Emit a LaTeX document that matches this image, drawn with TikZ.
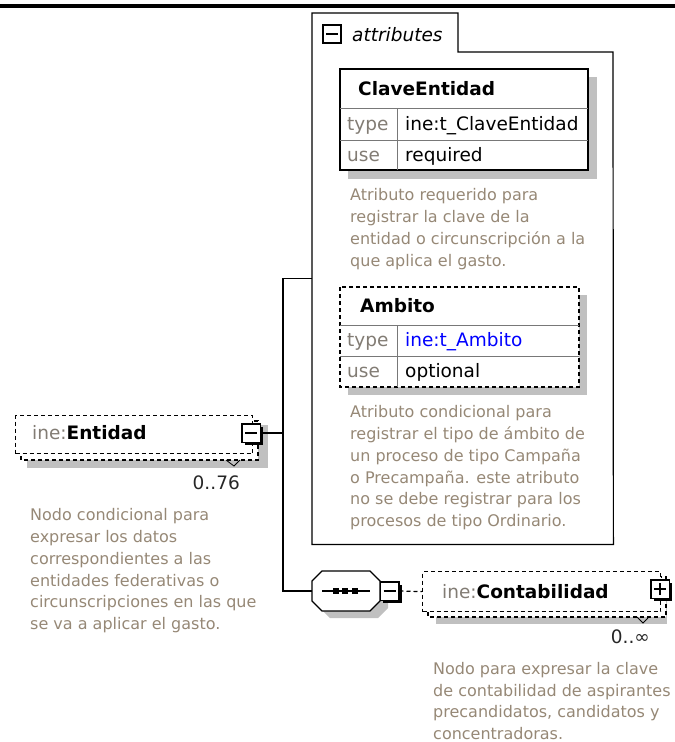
\documentclass[tikz,border=0pt]{standalone}
\usepackage{fontspec}
\setmainfont{DejaVu Sans}
\usepackage{xcolor}
\usetikzlibrary{shadows}

\definecolor{annot}{RGB}{150,136,118}
\definecolor{prefix}{RGB}{130,124,116}
\definecolor{shadowgray}{RGB}{192,192,192}
\definecolor{typeblue}{RGB}{0,0,255}
\definecolor{gridline}{RGB}{120,120,120}

\tikzset{
	box/.style={draw, line width=1.2pt, fill=white},
	optbox/.style={box, dash pattern=on 4pt off 3pt},
	conn/.style={line width=1.2pt},
	grid/.style={line width=0.8pt, draw=gridline},
	lbl/.style={anchor=base west, inner sep=0pt, font=\fontsize{18.5}{22}\selectfont},
	desc/.style={anchor=north west, align=left, inner sep=0pt, text=annot, font=\fontsize{16}{21.7}\selectfont},
	btn/.style={draw, line width=1.5pt, fill=white, minimum size=18.5pt, inner sep=0pt},
	raised/.style={drop shadow={opacity=1, fill=black, shadow xshift=2.8pt, shadow yshift=-2.8pt}},
	minusbtn/.style={btn, path picture={\draw[line width=1.3pt] ([xshift=-6pt]path picture bounding box.center) -- ([xshift=6pt]path picture bounding box.center);}},
	plusbtn/.style={btn, path picture={\draw[line width=1.3pt] ([xshift=-6pt]path picture bounding box.center) -- ([xshift=6pt]path picture bounding box.center) ([yshift=-6pt]path picture bounding box.center) -- ([yshift=6pt]path picture bounding box.center);}},
}

\begin{document}
\begin{tikzpicture}[x=1pt,y=-1pt]
	\useasboundingbox (0,0) rectangle (675,742);
	\fill (0,3.5) rectangle (675,7.5);

	\begin{scope}
		\node[minimum width=301pt, minimum height=531pt, inner sep=0pt, anchor=north west] (attrs) at (312,13) {};
		\draw[conn] (attrs.south west) -- (attrs.north west) -- (458,13) -- (458,52) -- (613,52) -- (attrs.south east) -- cycle;
		\node[minusbtn, line width=2pt, minimum size=18pt] (attrbtn) at (332,34) {};
		\node[lbl, font=\fontsize{18.5}{22}\selectfont\itshape] at (352,41) {attributes};
	\end{scope}

	\begin{scope}
		\fill[shadowgray] (348,77) rectangle (597,179);
		\draw[box] (340,69) rectangle (588,170);
		\draw[grid] (340,108) -- (588,108);
		\draw[grid] (340,140) -- (588,140);
		\draw[grid] (397,108) -- (397,170);
		\node[lbl, font=\fontsize{18.5}{22}\selectfont\bfseries] at (358,95.2) {ClaveEntidad};
		\node[lbl, text=prefix] at (347,130) {type};
		\node[lbl] at (405,130) {ine:t\_ClaveEntidad};
		\node[lbl, text=prefix] at (347,161) {use};
		\node[lbl] at (405,161) {required};
		\node[desc] at (350,188.6) {Atributo requerido para\\registrar la clave de la\\entidad o circunscripción a la\\que aplica el gasto.};
	\end{scope}

	\begin{scope}
		\fill[shadowgray] (348,295) rectangle (587,395);
		\draw[optbox] (340,287) rectangle (579,387);
		\draw[grid] (340,325) -- (579,325);
		\draw[grid] (340,356) -- (579,356);
		\draw[grid] (397,325) -- (397,387);
		\node[lbl, font=\fontsize{18.5}{22}\selectfont\bfseries] at (360,312.7) {Ambito};
		\node[lbl, text=prefix] at (347,346.5) {type};
		\node[lbl, text=typeblue] at (405,346.5) {ine:t\_Ambito};
		\node[lbl, text=prefix] at (347,377.5) {use};
		\node[lbl] at (405,377.5) {optional};
		\node[desc] at (350,405.6) {Atributo condicional para\\registrar el tipo de ámbito de\\un proceso de tipo Campaña\\o Precampaña. este atributo\\no se debe registrar para los\\procesos de tipo Ordinario.};
	\end{scope}

	\begin{scope}
		\fill[shadowgray] (27,425) rectangle (268,468);
		\draw[optbox] (21,421) rectangle (258,460);
		\node[optbox, minimum width=237pt, minimum height=38pt, inner sep=0pt, anchor=north west] (entidad) at (15,415) {};
		\node[lbl] at (32,439.7) {\textcolor{prefix}{ine:}\textbf{Entidad}};
		\node[minusbtn, raised] (entbtn) at (251,433) {};
		\draw[line width=0.8pt] (226,460) -- (234,466) -- (240,460);
		\node[lbl, anchor=base east, text=black!85] at (240,489) {0..76};
		\node[desc] at (30,508.6) {Nodo condicional para\\expresar los datos\\correspondientes a las\\entidades federativas o\\circunscripciones en las que\\se va a aplicar el gasto.};
	\end{scope}

	\begin{scope}
		\node[minimum width=68pt, minimum height=40pt, inner sep=0pt] (seq) at (346,591) {};
		\fill[shadowgray, shift={(8,7)}] (322,571) -- (370,571) -- (380,581) -- (380,601) -- (370,611) -- (322,611) -- (312,601) -- (312,581) -- cycle;
		\draw[box] (322,571) -- (370,571) -- (380,581) -- (380,601) -- (370,611) -- (322,611) -- (312,601) -- (312,581) -- cycle;
		\draw[conn] (322,591) -- (370,591);
		\foreach \x in {336,345,355}
			\fill (\x-2.7,588.3) rectangle (\x+2.7,593.7);
		\node[minusbtn, raised] (seqbtn) at (389.5,591) {};
	\end{scope}

	\begin{scope}
		\fill[shadowgray] (436,585) rectangle (667,624);
		\draw[optbox] (428,577) rectangle (666,617);
		\node[optbox, minimum width=238pt, minimum height=40pt, inner sep=0pt, anchor=north west] (contab) at (422,571) {};
		\node[lbl] at (442,598) {\textcolor{prefix}{ine:}\textbf{Contabilidad}};
		\node[plusbtn, raised] (contabbtn) at (660,589) {};
		\draw[line width=0.8pt] (637,617) -- (643,623) -- (648,618);
		\node[lbl, anchor=base east, text=black!85] at (650,643.5) {0..∞};
		\node[desc] at (433,662) {Nodo para expresar la clave\\de contabilidad de aspirantes\\precandidatos, candidatos y\\concentradoras.};
	\end{scope}

	\coordinate (fork) at (283,433);
	\draw[conn] (entbtn.east) -- (fork);
	\draw[conn] (attrs.west) -| (fork) |- (seq.west);
	\draw[conn, dash pattern=on 4pt off 3pt] (seqbtn.east) -- (contab.west);
\end{tikzpicture}
\end{document}
